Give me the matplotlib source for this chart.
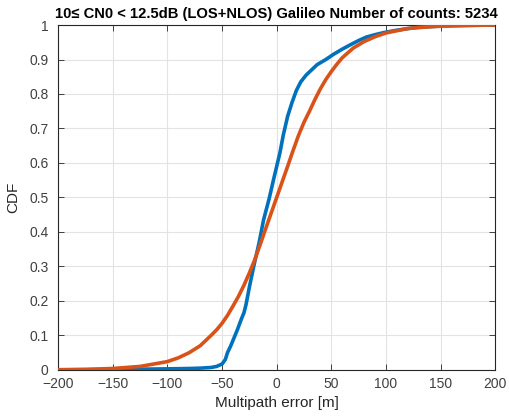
import matplotlib
matplotlib.use("Agg")
import matplotlib.pyplot as plt
import numpy as np

# Empirical CDF (blue)
emp_x = [-200, -150, -100, -80, -70, -60, -55, -50, -47, -45, -42, -36, -32, -30, -28, -25, -21, -16,
         -12, -7, -3, 0, 3, 6, 10, 14, 18, 22, 27, 32, 37, 45, 52, 60, 67, 75, 82, 90, 98, 110,
         128, 150, 175, 200]
emp_y = [0.0, 0.001, 0.003, 0.004, 0.005, 0.007, 0.010, 0.017, 0.03, 0.05, 0.07, 0.116, 0.15, 0.165,
         0.19, 0.24, 0.30, 0.37, 0.435, 0.495, 0.55, 0.59, 0.63, 0.68, 0.735, 0.775, 0.81, 0.835,
         0.855, 0.87, 0.885, 0.90, 0.915, 0.93, 0.942, 0.955, 0.965, 0.972, 0.978, 0.985, 0.993,
         0.997, 0.999, 1.0]

# Fitted CDF (orange)
fit_x = [-200, -175, -150, -125, -100, -90, -80, -70, -60, -55, -50, -45, -40, -35, -30, -25, -20,
         -15, -10, -5, 0, 5, 10, 15, 20, 25, 30, 35, 40, 45, 50, 55, 60, 70, 80, 90, 100, 120, 140,
         160, 200]
fit_y = [0.0006, 0.0015, 0.004, 0.010, 0.024, 0.035, 0.05, 0.07, 0.10, 0.116, 0.135, 0.158, 0.185,
         0.213, 0.245, 0.281, 0.32, 0.364, 0.41, 0.455, 0.50, 0.545, 0.59, 0.636, 0.68, 0.718, 0.75,
         0.784, 0.815, 0.842, 0.865, 0.886, 0.905, 0.933, 0.952, 0.966, 0.977, 0.99, 0.995, 0.998,
         1.0]

xticks = [-200, -150, -100, -50, 0, 50, 100, 150, 200]
yticks = [0, 0.1, 0.2, 0.3, 0.4, 0.5, 0.6, 0.7, 0.8, 0.9, 1]
ytick_labels = ["0", "0.1", "0.2", "0.3", "0.4", "0.5", "0.6", "0.7", "0.8", "0.9", "1"]

title = "10\u2264 CN0 < 12.5dB (LOS+NLOS) Galileo Number of counts: 5234"

plt.rcParams['font.family'] = ['Liberation Sans', 'DejaVu Sans']

fig = plt.figure(figsize=(5.10, 4.17), dpi=100)
ax = fig.add_axes([0.114, 0.113, 0.857, 0.827])

ax.plot(emp_x, emp_y, color='#0072BD', lw=2.6, solid_capstyle='butt', zorder=3)
ax.plot(fit_x, fit_y, color='#D95319', lw=2.6, solid_capstyle='butt', zorder=4)

ax.set_xlim(-200, 200)
ax.set_ylim(0, 1)
ax.set_xticks(xticks)
ax.set_yticks(yticks)
ax.set_yticklabels(ytick_labels)
ax.grid(True, color='#e3e3e3', lw=0.8)
ax.set_axisbelow(True)
for s in ax.spines.values():
    s.set_color('#262626')
    s.set_linewidth(0.8)
ax.tick_params(direction='in', top=True, right=True, length=4, width=0.6,
               colors='#262626', labelsize=10, labelcolor='#404040')
ax.tick_params(axis='x', pad=5)
ax.tick_params(axis='y', pad=7)
ax.set_xlabel("Multipath error [m]", fontsize=11, color='#262626', labelpad=4)
ax.set_ylabel("CDF", fontsize=11, color='#262626', labelpad=6)
ax.set_title(title, fontsize=10.6, fontweight='bold', color='black', pad=5)

fig.savefig("out.png", dpi=100)
